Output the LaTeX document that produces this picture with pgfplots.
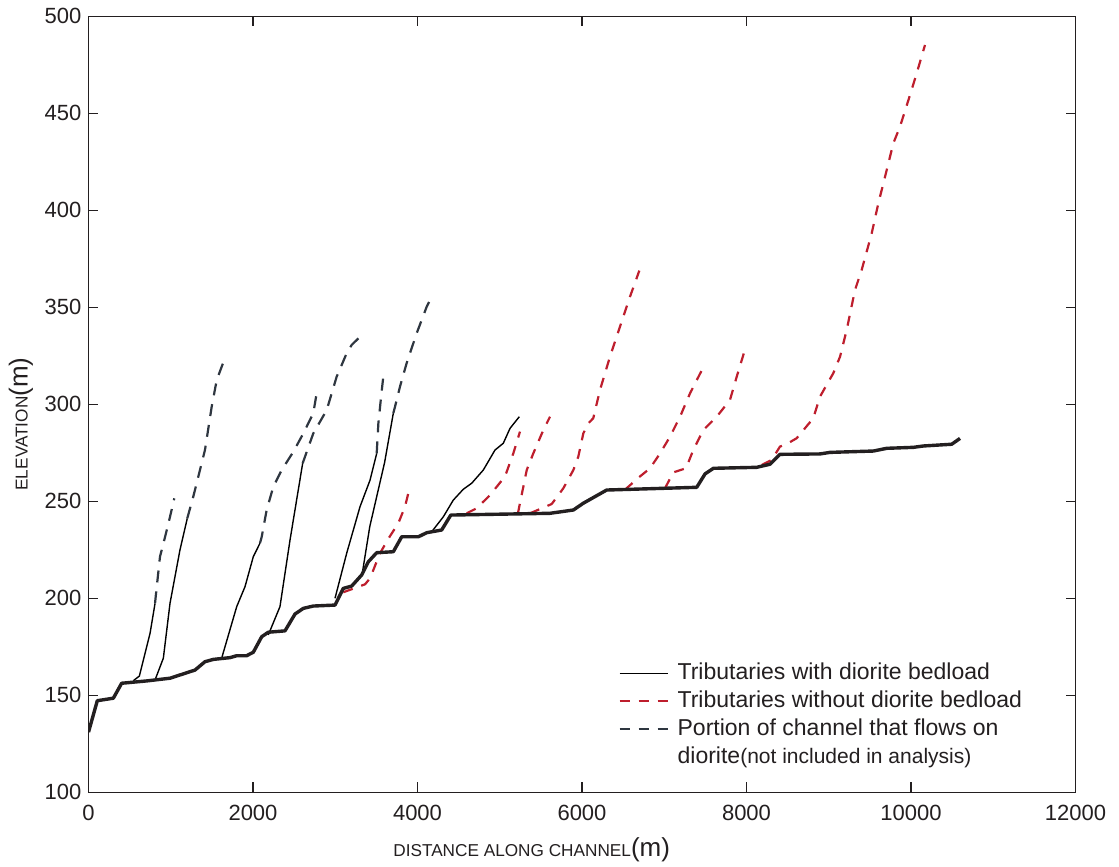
\documentclass[border=0pt]{standalone}
\usepackage{fontspec}
\setmainfont{Liberation Sans}
\usepackage{pgfplots}
\pgfplotsset{compat=1.18}
\definecolor{stem}{HTML}{231F20}
\definecolor{thin}{HTML}{3A3A3C}
\definecolor{dior}{HTML}{2E3640}
\definecolor{redd}{HTML}{BE1E2D}
\begin{document}
\begin{tikzpicture}
\begin{axis}[
  scale only axis,
  width=493.5pt, height=388pt,
  xmin=0, xmax=12000, ymin=100, ymax=500,
  xtick={0,2000,...,12000}, ytick={100,150,...,500},
  scaled x ticks=false,
  /pgf/number format/assume math mode=true,
  /pgf/number format/set thousands separator={},
  tick label style={font=\fontsize{11}{13}\selectfont, color=stem},
  xticklabel style={yshift=-3pt},
  major tick length=5pt,
  tick style={color=stem, line width=0.6pt},
  axis line style={color=stem, line width=0.7pt},
  xlabel={{\fontsize{8.6}{10}\selectfont DISTANCE ALONG CHANNEL}{\fontsize{13}{14}\selectfont(m)}},
  ylabel={{\fontsize{8.6}{10}\selectfont ELEVATION}{\fontsize{13}{14}\selectfont(m)}},
  xlabel style={at={(axis description cs:0.449,0)}, anchor=center, yshift=-28.5pt, color=stem},
  ylabel style={at={(axis description cs:-0.0684,0.4746)}, anchor=center, rotate=0, color=stem},
  legend style={at={(axis cs:6365,170.8)}, anchor=north west, draw=none, fill=none,
    font=\fontsize{11.5}{13}\selectfont, text=stem,
    nodes={inner sep=0.5pt, text height=9.5pt, text depth=3.5pt},
    column sep=4pt},
  legend cell align=left,
  legend image code/.code={\draw[#1] (0pt,0pt) -- (24pt,0pt);},
]
\addlegendimage{thin, line width=0.7pt}
\addlegendentry{Tributaries with diorite bedload}
\addlegendimage{redd, line width=1.1pt, dash pattern=on 5pt off 4.5pt}
\addlegendentry{Tributaries without diorite bedload}
\addlegendimage{dior, line width=1.1pt, dash pattern=on 5pt off 4.5pt}
\addlegendentry{Portion of channel that flows on}
\addlegendimage{empty legend}
\addlegendentry{diorite{\fontsize{10.5}{12}\selectfont(not included in analysis)}}

% thin solid tributaries (with diorite bedload)
\pgfplotsset{every axis plot/.append style={line join=round}}
\addplot[forget plot, thin, line width=0.7pt] coordinates {(545,157.5)(618,159.9)(687,171.6)(748,181.9)(809,197.4)};
\addplot[forget plot, thin, line width=0.7pt] coordinates {(809,157.9)(910,169.1)(991,197.4)(1112,224.9)(1201,241.2)};
\addplot[forget plot, thin, line width=0.7pt] coordinates {(1619,169.1)(1802,195.7)(1903,206.0)(2004,221.5)(2085,228.4)};
\addplot[forget plot, thin, line width=0.7pt] coordinates {(2186,181.1)(2328,195.7)(2450,230.0)(2604,269.6)};
\addplot[forget plot, thin, line width=0.7pt] coordinates {(2997,200.0)(3139,223.2)(3301,247.2)(3423,260.9)(3504,274.7)};
\addplot[forget plot, thin, line width=0.7pt] coordinates {(3333,214.0)(3420,237.0)(3504,252.4)(3600,270.0)(3706,295.4)};
\addplot[forget plot, thin, line width=0.7pt] coordinates {(4173,234.3)(4314,242.0)(4435,250.6)(4557,256.2)(4659,259.3)(4800,266.1)(4942,276.4)(5043,279.9)(5125,287.6)(5238,293.6)};

% dark dashed: portion on diorite
\addplot[forget plot, dior, line width=1.1pt, dash pattern=on 6pt off 4.5pt] coordinates {(809,197.4)(817,200.8)(869,221.4)(942,233.5)(991,242.0)(1043,251.5)};
\addplot[forget plot, dior, line width=1.1pt, dash pattern=on 6pt off 4.5pt] coordinates {(1201,241.2)(1274,252.4)(1416,276.4)(1498,298.8)(1559,312.5)(1647,322.5)};
\addplot[forget plot, dior, line width=1.1pt, dash pattern=on 6pt off 4.5pt] coordinates {(2085,228.4)(2106,231.7)(2166,245.5)(2247,257.5)(2349,266.1)(2490,275.5)(2612,285.0)(2733,295.4)(2774,305.7)(2782,308.2)};
\addplot[forget plot, dior, line width=1.1pt, dash pattern=on 6pt off 4.5pt] coordinates {(2604,269.6)(2733,285.0)(2896,297.0)(3017,314.2)(3139,326.3)(3200,330.6)(3301,334.8)};
\addplot[forget plot, dior, line width=1.1pt, dash pattern=on 6pt off 4.5pt] coordinates {(3504,274.7)(3524,290.0)(3560,305.0)(3584,314.2)(3605,316.0)};
\addplot[forget plot, dior, line width=1.1pt, dash pattern=on 6pt off 4.5pt] coordinates {(3706,295.4)(3727,298.8)(3787,309.1)(3868,321.2)(3990,336.6)(4112,350.3)(4173,355.5)};

% red dashed: tributaries without diorite bedload
\addplot[forget plot, redd, line width=1.1pt, dash pattern=on 5pt off 4.5pt] coordinates {(3098,203.1)(3362,207.2)(3423,210.3)(3544,223.2)(3650,231.0)(3767,238.7)(3848,247.2)(3888,254.1)};
\addplot[forget plot, redd, line width=1.1pt, dash pattern=on 5pt off 4.5pt] coordinates {(4598,243.8)(4720,246.4)(4882,253.2)(5064,262.8)(5165,274.7)(5246,285.9)};
\addplot[forget plot, redd, line width=1.1pt, dash pattern=on 5pt off 4.5pt] coordinates {(5220,243.6)(5328,266.1)(5408,274.7)(5530,286.7)(5611,293.6)};
\addplot[forget plot, redd, line width=1.1pt, dash pattern=on 5pt off 4.5pt] coordinates {(5368,243.8)(5632,248.6)(5773,256.7)(5895,266.1)(5955,273.0)(6016,285.0)(6077,290.2)(6137,292.8)(6219,307.4)(6340,324.5)(6462,340.0)(6584,355.5)(6697,368.9)};
\addplot[forget plot, redd, line width=1.1pt, dash pattern=on 5pt off 4.5pt] coordinates {(6523,256.0)(6705,262.8)(6827,267.0)(6949,274.7)(7070,283.3)(7192,293.6)(7313,305.6)(7468,318.5)};
\addplot[forget plot, redd, line width=1.1pt, dash pattern=on 5pt off 4.5pt] coordinates {(7009,256.7)(7110,264.9)(7264,267.0)(7353,276.4)(7475,286.7)(7638,293.6)(7799,302.2)(7881,314.2)(7982,328.3)};
\addplot[forget plot, redd, line width=1.1pt, dash pattern=on 5pt off 4.5pt] coordinates {(8185,268.7)(8306,271.3)(8407,278.2)(8488,279.5)(8610,282.5)(8812,292.8)(8893,303.9)(9055,316.0)(9137,324.5)(9218,338.3)(9319,358.9)(9400,369.2)(9522,388.1)(9603,403.6)(9705,420.8)(9785,434.5)(9866,443.1)(9988,459.4)(10069,470.6)(10170,485.2)};

% main stem
\addplot[forget plot, stem, line width=1.7pt] coordinates {(0,131.0)(107,147.2)(302,148.5)(403,156.2)(708,157.4)(991,158.8)(1295,163.0)(1416,167.3)(1518,168.5)(1720,169.4)(1802,170.4)(1923,170.4)(2004,172.2)(2106,180.2)(2186,182.5)(2389,183.2)(2511,191.9)(2612,194.8)(2733,196.0)(2997,196.5)(3098,205.1)(3200,206.3)(3321,212.0)(3402,218.8)(3504,223.5)(3706,224.0)(3808,231.7)(4010,231.7)(4112,233.8)(4294,235.2)(4405,242.9)(5611,243.8)(5895,245.5)(6016,249.0)(6300,255.8)(7395,257.2)(7496,264.1)(7597,267.0)(8124,267.5)(8286,269.1)(8407,274.2)(8893,274.4)(9015,275.2)(9542,275.9)(9705,277.3)(10028,277.8)(10150,278.5)(10495,279.4)(10596,282.4)};
\end{axis}
\pgfresetboundingbox
\path ([shift={(-44.25pt,-37.35pt)}]current axis.south west) rectangle ([shift={(21.75pt,8.15pt)}]current axis.north east);
\end{tikzpicture}
\end{document}
